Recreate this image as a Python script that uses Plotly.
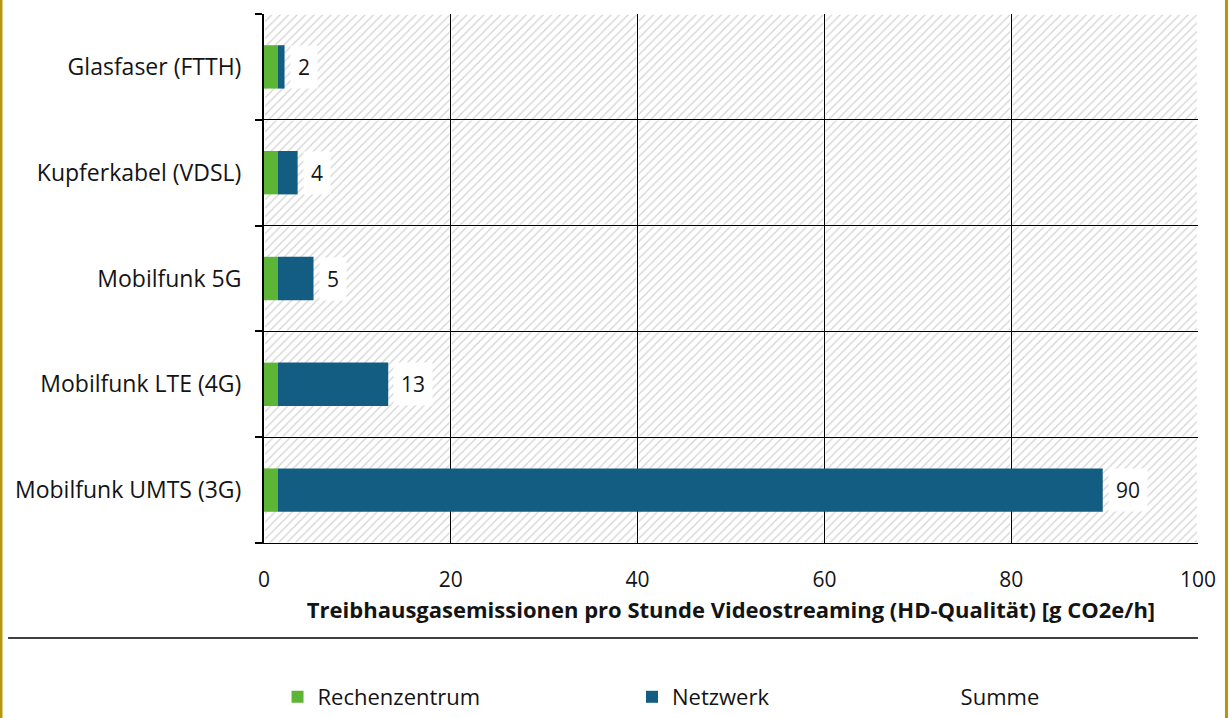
import plotly.graph_objects as go

categories = ["Mobilfunk UMTS (3G)", "Mobilfunk LTE (4G)", "Mobilfunk 5G",
              "Kupferkabel (VDSL)", "Glasfaser (FTTH)"]
rechenzentrum = [1.5, 1.5, 1.5, 1.5, 1.5]
netzwerk = [88.3, 11.8, 3.8, 2.1, 0.7]
summe_labels = ["90", "13", "5", "4", "2"]
x_ticks = [0, 20, 40, 60, 80, 100]

GREEN = "#5db535"
BLUE = "#135c82"
FONT = "Open Sans"
TXT = "#141414"

pos = list(range(len(categories)))
totals = [r + n for r, n in zip(rechenzentrum, netzwerk)]

fig = go.Figure()

# hatched background, split into cells so the grid lines stay visible
for lo, hi in zip(x_ticks[:-1], x_ticks[1:]):
    gap = (hi - lo) * 0.006
    fig.add_trace(go.Bar(
        y=pos, x=[hi - lo - 2 * gap] * len(pos), base=lo + gap, orientation="h", width=0.985,
        marker=dict(color="#d2d2d2", line=dict(width=0),
                    pattern=dict(shape="/", size=6, solidity=0.2, fillmode="replace")),
        showlegend=False, hoverinfo="skip"))

fig.add_trace(go.Bar(
    y=pos, x=rechenzentrum, orientation="h", width=0.41, name="Rechenzentrum",
    marker=dict(color=GREEN, line=dict(width=0)), legend="legend"))
fig.add_trace(go.Bar(
    y=pos, x=netzwerk, base=rechenzentrum, orientation="h", width=0.41, name="Netzwerk",
    marker=dict(color=BLUE, line=dict(width=0)), legend="legend2"))
fig.add_trace(go.Bar(
    y=[pos[0]], x=[0], orientation="h", name="Summe",
    marker=dict(color="rgba(0,0,0,0)", line=dict(width=0)), legend="legend3"))

for p, t, lab in zip(pos, totals, summe_labels):
    fig.add_annotation(x=t, y=p, text=lab, showarrow=False, xanchor="left",
                       xshift=5, bgcolor="white", borderpad=7,
                       font=dict(family=FONT, size=21, color=TXT))

leg = dict(orientation="h", y=-0.3308, yanchor="bottom", xanchor="left",
           font=dict(size=22, color=TXT), bgcolor="rgba(0,0,0,0)")

fig.update_layout(
    barmode="overlay",
    width=1229, height=718, autosize=False,
    margin=dict(l=264, r=31, t=14, b=175, autoexpand=False),
    plot_bgcolor="white", paper_bgcolor="white",
    font=dict(family=FONT, size=22, color=TXT),
    xaxis=dict(range=[0, 100], tickvals=x_ticks, showgrid=True, gridcolor="black",
               gridwidth=1, zeroline=False, showline=True, linecolor="black",
               ticks="", ticklabelstandoff=18, tickfont=dict(size=21), automargin=False,
               title=dict(text="<b>Treibhausgasemissionen pro Stunde Videostreaming (HD-Qualität) [g CO2e/h]</b>",
                          standoff=10, font=dict(size=22))),
    yaxis=dict(range=[-0.5, 4.5], tickvals=pos, ticktext=categories, showgrid=False,
               zeroline=False, showline=True, linecolor="black", linewidth=2,
               ticks="", ticklabelstandoff=16, tickfont=dict(size=23), automargin=False,
               minor=dict(tickvals=[p - 0.5 for p in pos] + [pos[-1] + 0.5],
                          showgrid=True, gridcolor="black", gridwidth=1,
                          ticks="outside", ticklen=7, tickcolor="black", tickwidth=2)),
    legend=dict(leg, x=0.0145),
    legend2=dict(leg, x=0.394),
    legend3=dict(leg, x=0.703),
    shapes=[
        dict(type="line", xref="paper", yref="paper", x0=-0.274, x1=1.0,
             y0=-0.1796, y1=-0.1796, line=dict(color="black", width=1.5)),
        dict(type="line", xref="paper", yref="paper", x0=-0.2816, x1=-0.2816,
             y0=-0.34, y1=1.04, line=dict(color="#b8960c", width=3)),
        dict(type="line", xref="paper", yref="paper", x0=1.0305, x1=1.0305,
             y0=-0.34, y1=1.04, line=dict(color="#b8960c", width=3)),
    ],
)

fig.write_html("out.html", config={"responsive": False, "displayModeBar": False},
               post_script="document.body.style.margin='0';document.body.style.overflow='hidden';")
